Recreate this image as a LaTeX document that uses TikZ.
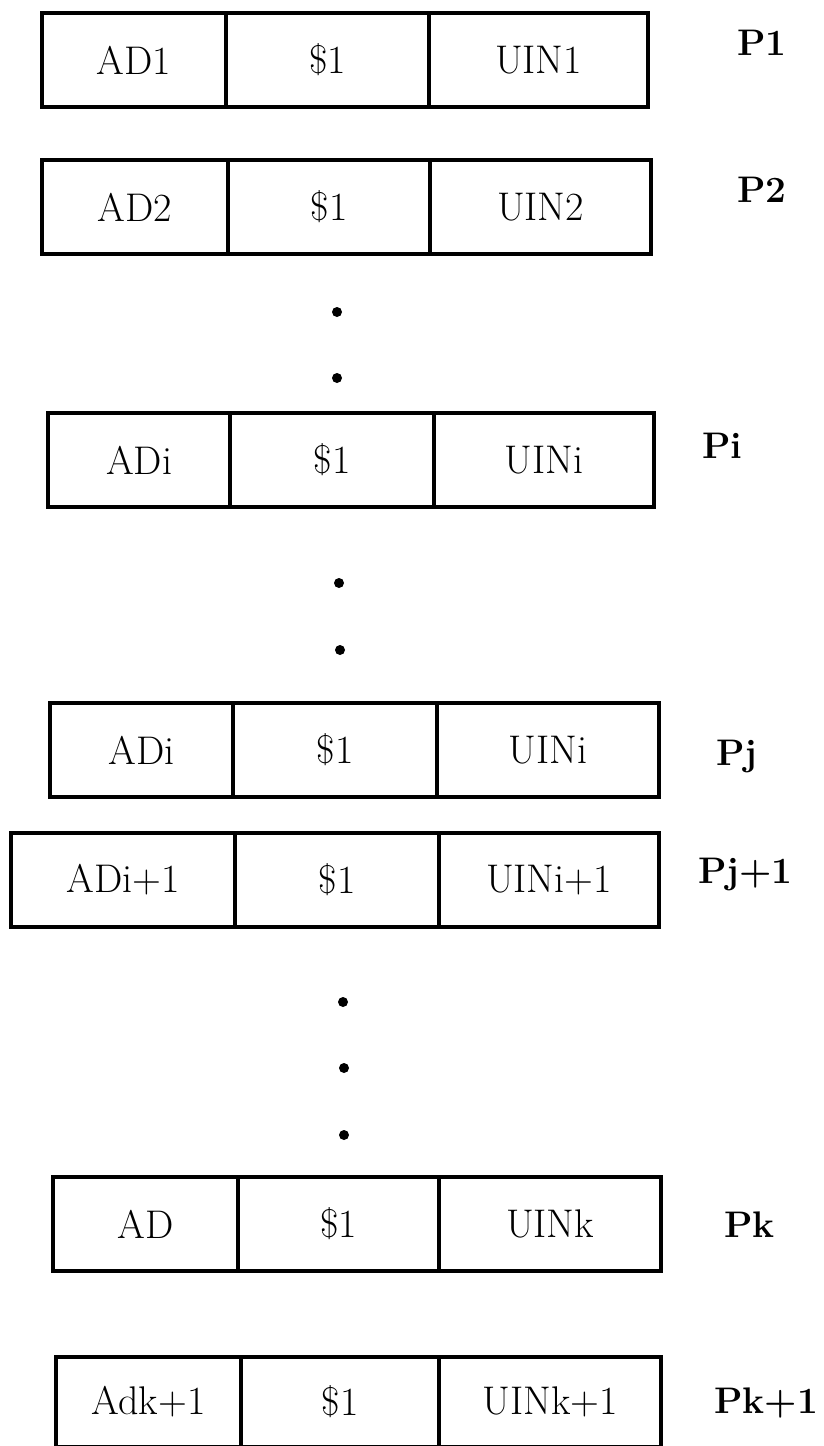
\documentclass[tikz,border=0pt]{standalone}
\usetikzlibrary{positioning}

\tikzset{every picture/.style={line width=4.5pt}}
\tikzset{
  cell/.style={draw, rectangle, inner sep=0pt, outer sep=0pt, minimum height=94pt,
    font=\fontsize{40}{42}\selectfont},
  plabel/.style={anchor=base west, inner sep=0pt, font=\fontsize{37}{39}\selectfont\bfseries},
  gapdot/.style={circle, fill, inner sep=0pt, minimum size=10pt}
}

\begin{document}
\begin{tikzpicture}[x=1pt,y=-1pt]
			\useasboundingbox (0,0) rectangle (824,1446);
			% P1
			\node [cell,minimum width=184pt,anchor=north west] (ad1) at (42,13) {AD1};
			\node [cell,minimum width=203pt,right=0pt of ad1] (pay1) {\$1};
			\node [cell,minimum width=219pt,right=0pt of pay1] (uin1) {UIN1};
			\node [plabel] (p1) at (735,55) {P1};
			% P2
			\node [cell,minimum width=186pt,anchor=north west] (ad2) at (42,160) {AD2};
			\node [cell,minimum width=202pt,right=0pt of ad2] (pay2) {\$1};
			\node [cell,minimum width=221pt,right=0pt of pay2] (uin2) {UIN2};
			\node [plabel] (p2) at (735,202) {P2};
			\node [gapdot] (d1) at (337,312) {};
			\node [gapdot] (d2) at (337,378) {};
			% Pi
			\node [cell,minimum width=182pt,anchor=north west] (adi) at (48,413) {ADi};
			\node [cell,minimum width=204pt,right=0pt of adi] (payi) {\$1};
			\node [cell,minimum width=220pt,right=0pt of payi] (uini) {UINi};
			\node [plabel] (pi) at (700,458) {Pi};
			\node [gapdot] (d3) at (339,583) {};
			\node [gapdot] (d4) at (340,650) {};
			% Pj
			\node [cell,minimum width=183pt,anchor=north west] (adj) at (50,703) {ADi};
			\node [cell,minimum width=204pt,right=0pt of adj] (payj) {\$1};
			\node [cell,minimum width=222pt,right=0pt of payj] (uinj) {UINi};
			\node [plabel] (pj) at (714,765) {Pj};
			% Pj+1
			\node [cell,minimum width=224pt,anchor=north west] (adj1) at (11,833) {ADi+1};
			\node [cell,minimum width=204pt,right=0pt of adj1] (payj1) {\$1};
			\node [cell,minimum width=220pt,right=0pt of payj1] (uinj1) {UINi+1};
			\node [plabel] (pj1) at (696,883) {Pj+1};
			\node [gapdot] (d5) at (343,1002) {};
			\node [gapdot] (d6) at (344,1068) {};
			\node [gapdot] (d7) at (344,1135) {};
			% Pk
			\node [cell,minimum width=185pt,anchor=north west] (adk) at (53,1177) {AD};
			\node [cell,minimum width=201pt,right=0pt of adk] (payk) {\$1};
			\node [cell,minimum width=222pt,right=0pt of payk] (uink) {UINk};
			\node [plabel] (pk) at (722,1237) {Pk};
			% Pk+1
			\node [cell,minimum width=185pt,minimum height=90pt,anchor=north west] (adk1) at (56,1357) {Adk+1};
			\node [cell,minimum width=198pt,minimum height=90pt,right=0pt of adk1] (payk1) {\$1};
			\node [cell,minimum width=222pt,minimum height=90pt,right=0pt of payk1] (uink1) {UINk+1};
			\node [plabel] (pk1) at (712,1413) {Pk+1};
		\end{tikzpicture}
\end{document}
